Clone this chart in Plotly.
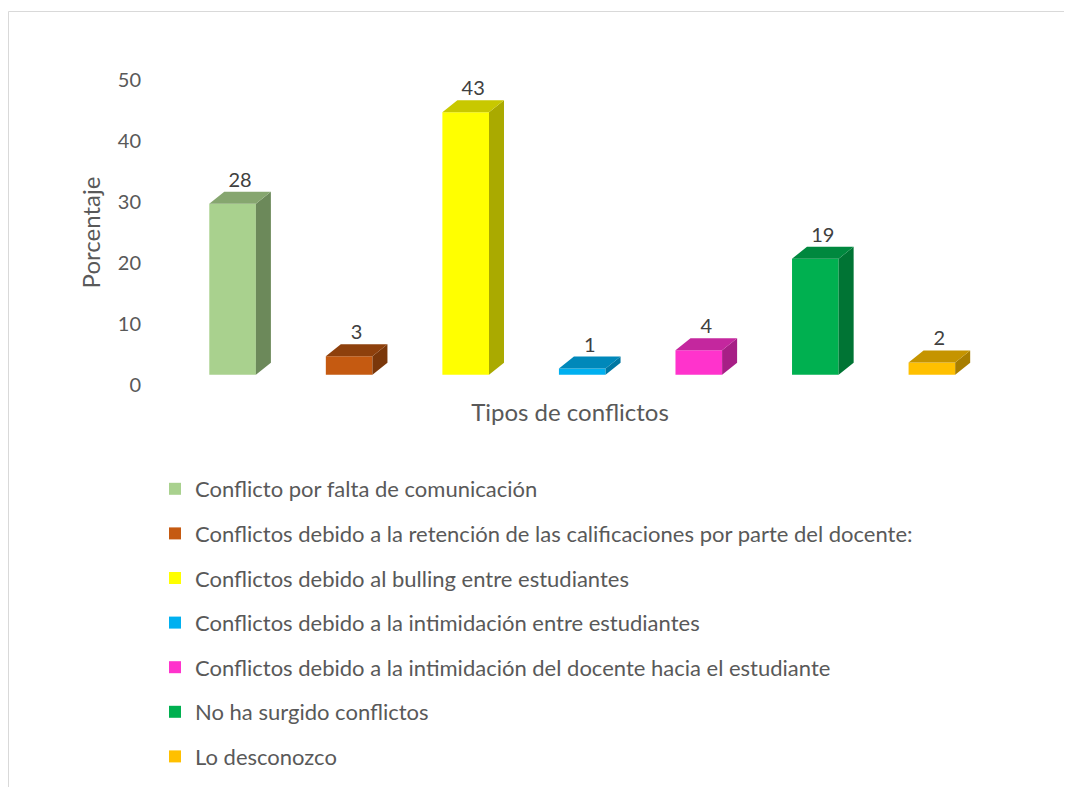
import plotly.graph_objects as go

categories = [
    "Conflicto por falta de comunicación",
    "Conflictos debido a la retención de las calificaciones por parte del docente:",
    "Conflictos debido al bulling entre estudiantes",
    "Conflictos debido a la intimidación entre estudiantes",
    "Conflictos debido a la intimidación del docente hacia el estudiante",
    "No ha surgido conflictos",
    "Lo desconozco",
]
values = [28, 3, 43, 1, 4, 19, 2]
y_ticks = [0, 10, 20, 30, 40, 50]
front_colors = ["#A9D18E", "#C55A11", "#FFFF00", "#00B0F0", "#FF33CC", "#00B050", "#FFC000"]
top_colors = ["#86A66F", "#8E400C", "#C8C800", "#0088BA", "#C4279E", "#00883E", "#C59400"]
side_colors = ["#6C895A", "#7A370A", "#AAAA00", "#0077A2", "#A71F86", "#007434", "#A87E00"]

# figure geometry (page body adds an 8px offset)
W, H = 1064, 810
ML, MR, MT, MB = 143, 83, 72, 0
PLOT_BOTTOM_PX = 377
XR = [-0.7, 6.49]
FLOOR = 1.7          # front faces sit slightly above the back-wall zero
YR = [0 - FLOOR, 50 - FLOOR]
BAR_W = 0.40
DEPTH_PX = (15, 12)  # 3D depth in pixels (right, up)

paper_w = W - ML - MR
paper_h = H - MT - MB
y_dom0 = (H - MB - PLOT_BOTTOM_PX) / paper_h

px_per_x = paper_w / (XR[1] - XR[0])
px_per_y = (PLOT_BOTTOM_PX - MT) / (YR[1] - YR[0])
dx = DEPTH_PX[0] / px_per_x
dy = DEPTH_PX[1] / px_per_y

font = "Lato, 'Open Sans', sans-serif"
fig = go.Figure()

for i, (cat, v) in enumerate(zip(categories, values)):
    fig.add_trace(go.Bar(
        x=[i], y=[v], base=0, width=BAR_W, name=cat,
        marker=dict(color=front_colors[i], line=dict(width=0)),
        legendgroup=f"g{i}", hoverinfo="skip",
    ))

for i, v in enumerate(values):
    l, r = i - BAR_W / 2, i + BAR_W / 2
    fig.add_trace(go.Scatter(
        x=[r, r + dx, r + dx, r, r], y=[0, dy, v + dy, v, 0],
        fill="toself", fillcolor=side_colors[i], mode="lines",
        line=dict(width=0, color=side_colors[i]), showlegend=False,
        hoverinfo="skip",
    ))
    fig.add_trace(go.Scatter(
        x=[l, l + dx, r + dx, r, l], y=[v, v + dy, v + dy, v, v],
        fill="toself", fillcolor=top_colors[i], mode="lines",
        line=dict(width=0, color=top_colors[i]), showlegend=False,
        hoverinfo="skip",
    ))

fig.add_trace(go.Scatter(
    x=[i + dx / 2 for i in range(len(values))],
    y=[v + dy for v in values],
    text=[str(v) for v in values], mode="text", textposition="top center",
    textfont=dict(family=font, size=20, color="#404040"),
    showlegend=False, hoverinfo="skip",
))

fig.update_layout(
    width=W, height=H,
    margin=dict(l=ML, r=MR, t=MT, b=MB, autoexpand=False),
    paper_bgcolor="white", plot_bgcolor="white",
    font=dict(family=font, color="#595959"),
    xaxis=dict(range=XR, showticklabels=False, showgrid=False, zeroline=False,
               showline=False, ticks="",
               title=dict(text="Tipos de conflictos", standoff=19,
                          font=dict(size=24, color="#595959"))),
    yaxis=dict(range=YR, domain=[y_dom0, 1],
               tickvals=[t - FLOOR for t in y_ticks],
               ticktext=[str(t) for t in y_ticks],
               ticklabelstandoff=9,
               showgrid=False, zeroline=False, showline=False, ticks="",
               tickfont=dict(size=20, color="#595959"),
               title=dict(text="Porcentaje", standoff=10,
                          font=dict(size=24, color="#595959"))),
    legend=dict(x=(147 - ML) / paper_w, y=(H - MB - 460) / paper_h,
                xanchor="left", yanchor="top", traceorder="grouped",
                tracegroupgap=13, font=dict(size=22, color="#595959"),
                bgcolor="rgba(0,0,0,0)"),
    showlegend=True,
    shapes=[dict(type="rect", xref="paper", yref="paper",
                 x0=(0.5 - ML) / paper_w, x1=1.3,
                 y0=-0.2, y1=(H - MB - 3.5) / paper_h,
                 line=dict(color="#D9D9D9", width=1), fillcolor="rgba(0,0,0,0)",
                 layer="below")],
)

fig.write_html("out.html")
